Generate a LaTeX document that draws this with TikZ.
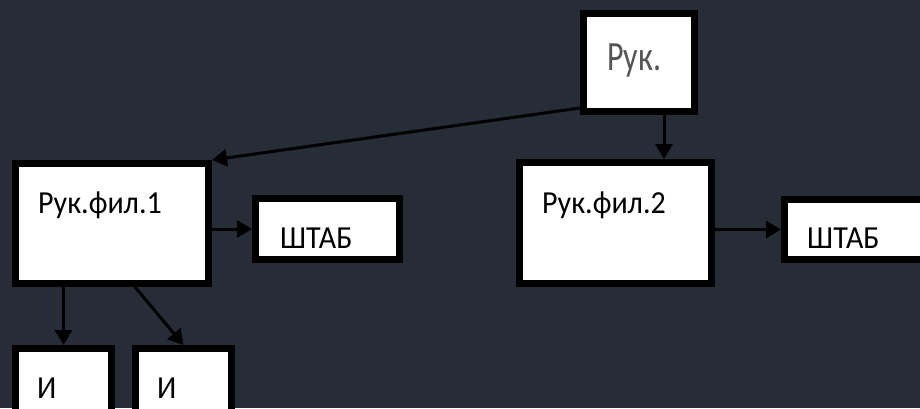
\documentclass[tikz,border=0pt]{standalone}
\usepackage{fontspec}
\setmainfont{Carlito}
\usetikzlibrary{arrows.meta,calc}
\definecolor{bgdark}{RGB}{38,45,54}
\definecolor{labelgrey}{RGB}{85,85,85}
\newcommand{\tallstr}[1]{\scalebox{1}[1.07]{#1}}
\begin{document}
\begin{tikzpicture}[x=1pt,y=-1pt,
  box/.style={draw=black,fill=white,line width=7pt,inner sep=0pt,outer sep=0.5\pgflinewidth},
  lbl/.style={anchor=base west,inner sep=0pt,font=\fontsize{30}{36}\selectfont},
  link/.style={line width=3pt,-{Triangle[length=15pt,width=17pt]}}]
  % canvas
  \fill[bgdark] (0,0) rectangle (920,408);
  \useasboundingbox (0,0) rectangle (920,408);
  \clip (0,0) rectangle (920,408);

  % boxes
  \node[box,minimum width=111pt,minimum height=98pt]  (ruk) at (639,62.5) {};
  \node[box,minimum width=193pt,minimum height=120pt] (f1)  at (112,223.5) {};
  \node[box,minimum width=144pt,minimum height=61pt]  (sh1) at (327.5,229) {};
  \node[box,minimum width=192pt,minimum height=121pt] (f2)  at (615.5,223) {};
  \node[box,minimum width=146pt,minimum height=60pt]  (sh2) at (857.5,229.5) {};
  \node[box,minimum width=96pt,minimum height=80pt]   (i1)  at (63.5,388.5) {};
  \node[box,minimum width=96pt,minimum height=80pt]   (i2)  at (183.5,388.5) {};

  % texts
  \node[lbl,text=labelgrey,font=\fontsize{32}{38}\selectfont] (tRuk) at (607,70) {\scalebox{1}[1.3]{Рук.}};
  \node[lbl] (tF1) at (38,213) {\tallstr{Рук.фил.1}};
  \node[lbl] (tF2) at (542,213) {\tallstr{Рук.фил.2}};
  \node[lbl] (tS1) at (280,248) {\tallstr{ШТАБ}};
  \node[lbl] (tS2) at (807,248) {\tallstr{ШТАБ}};
  \node[lbl] (tI1) at (37,398) {\tallstr{И}};
  \node[lbl] (tI2) at (157,398) {\tallstr{И}};

  % connector anchor points
  \coordinate (rukOut) at (580,108);
  \coordinate (downX) at (664,0);
  \coordinate (diagX) at (135,0);

  % connectors
  \draw[link] (rukOut) -- (f1.north east);
  \draw[link] (ruk.south -| downX) -- (f2.north -| downX);
  \draw[link] (f1.east |- sh1.west) -- (sh1.west);
  \draw[link] (f2.east |- sh2.west) -- (sh2.west);
  \draw[link] (f1.south -| i1.north) -- (i1.north);
  \draw[link] (f1.south -| diagX) -- (i2.north);
\end{tikzpicture}
\end{document}
